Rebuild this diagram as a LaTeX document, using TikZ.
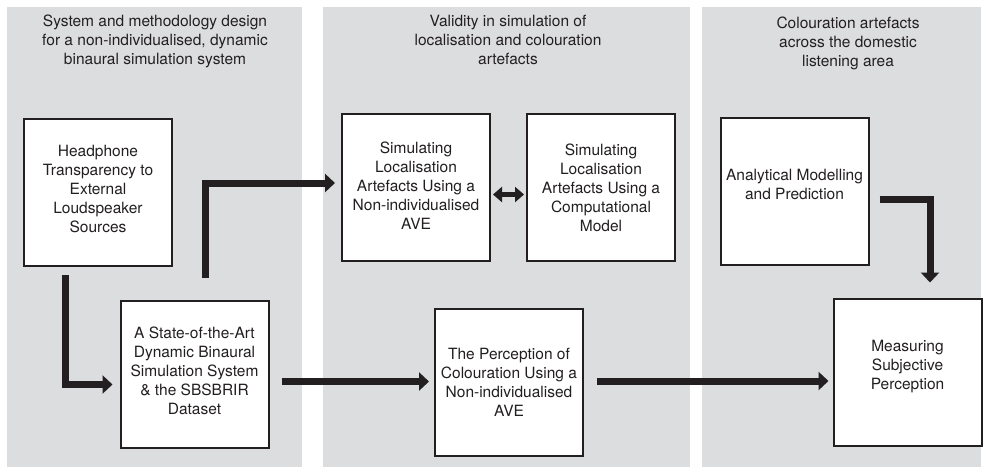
\documentclass[tikz,border=0pt]{standalone}
\usepackage{fontspec}
\setmainfont{TeX Gyre Heros}
\usetikzlibrary{arrows.meta}
\definecolor{panelgray}{HTML}{DCDDDF}
\definecolor{ink}{HTML}{231F20}
\begin{document}
\begin{tikzpicture}[x=1pt,y=-1pt,
  panel/.style={fill=panelgray,draw=none},
  box/.style={draw=ink,line width=2pt,fill=white,minimum width=148pt,minimum height=147pt,inner sep=0pt},
  txt/.style={text=ink,align=center,font=\fontsize{15.5pt}{19pt}\selectfont,inner sep=0pt},
  bigarrow/.style={draw=ink,line width=7pt,line join=miter,line cap=butt,-{Triangle[length=10pt,width=18pt]}},
  dblarrow/.style={draw=ink,line width=4.5pt,{Triangle[length=9pt,width=15pt]}-{Triangle[length=9pt,width=15pt]}}]
\useasboundingbox (0,0) rectangle (983,467);
\fill[white] (0,0) rectangle (983,467);
% panels
\fill[panel] (7,7) rectangle (302,467);
\fill[panel] (323,7) rectangle (690,467);
\fill[panel] (702,7) rectangle (981,467);
% panel titles
\node[txt] (t1) at (155,41) {System and methodology design\\for a non-individualised, dynamic\\binaural simulation system};
\node[txt] (t2) at (508,40) {Validity in simulation of\\localisation and colouration\\artefacts};
\node[txt] (t3) at (848,43.5) {Colouration artefacts\\across the domestic\\listening area};
% boxes
\node[box] (A) at (98,192.5) {};
\node[box] (B) at (194.5,374) {};
\node[box] (C) at (416,187.5) {};
\node[box] (D) at (601,187.5) {};
\node[box] (E) at (509,382) {};
\node[box] (F) at (794.5,191.5) {};
\node[box] (G) at (907.5,372) {};
% box texts
\node[txt] (tA) at ([yshift=3.5pt]A.center) {Headphone\\Transparency to\\External\\Loudspeaker\\Sources};
\node[txt] (tB) at ([yshift=3pt]B.center) {A State-of-the-Art\\Dynamic Binaural\\Simulation System\\\& the SBSBRIR\\Dataset};
\node[txt] (tC) at ([yshift=1.5pt]C.center) {Simulating\\Localisation\\Artefacts Using a\\Non-individualised\\AVE};
\node[txt] (tD) at (D.center) {Simulating\\Localisation\\Artefacts Using a\\Computational\\Model};
\node[txt] (tE) at (E.center) {The Perception of\\Colouration Using a\\Non-individualised\\AVE};
\node[txt] (tF) at ([yshift=7.5pt]F.center) {Analytical Modelling\\and Prediction};
\node[txt] (tG) at ([yshift=5pt]G.center) {Measuring\\Subjective\\Perception};
% connectors
\coordinate (aAs) at ([xshift=-33pt,yshift=-8pt]A.south);
\coordinate (aBe) at ([xshift=-7pt,yshift=-10.5pt]B.west);
\draw[bigarrow] (aAs) |- (aBe);
\coordinate (aBs) at ([xshift=10.5pt,yshift=22pt]B.north);
\coordinate (aCe) at ([xshift=-6pt,yshift=4.5pt]C.west);
\draw[bigarrow] (aBs) |- (aCe);
\coordinate (aBs2) at ([xshift=12pt,yshift=-7.5pt]B.east);
\coordinate (aEe) at ([xshift=-5pt]E.west);
\draw[bigarrow] (aBs2) -- (aEe |- aBs2);
\coordinate (aEs) at ([xshift=13pt,yshift=1pt]E.east);
\coordinate (aGe) at ([xshift=-4pt]G.west);
\draw[bigarrow] (aEs) -- (aGe |- aEs);
\coordinate (aFs) at ([xshift=10pt,yshift=-7.5pt]F.east);
\coordinate (aGn) at ([xshift=22.5pt,yshift=15pt]G.north);
\draw[bigarrow] (aFs) -| (aGn);
\coordinate (dC) at ([xshift=2pt,yshift=-7pt]C.east);
\coordinate (dD) at ([xshift=-2pt,yshift=-7pt]D.west);
\draw[dblarrow] (dC) -- (dD);
\end{tikzpicture}
\end{document}
